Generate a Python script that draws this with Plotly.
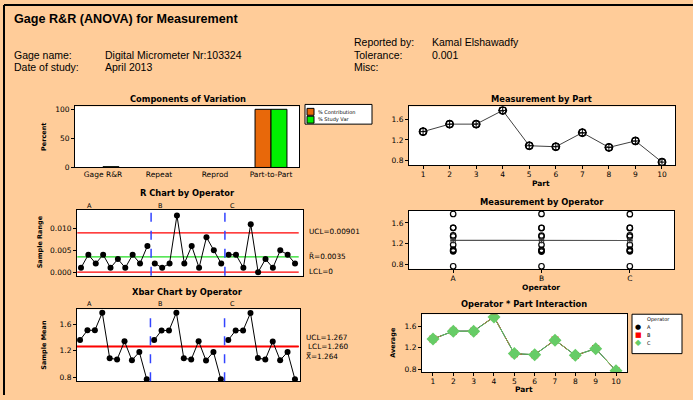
import numpy as np
import plotly.graph_objects as go

W, H = 693, 400

# ---------------- data ----------------
parts = [1, 2, 3, 4, 5, 6, 7, 8, 9, 10]
operators = ["A", "B", "C"]
components = ["Gage R&R", "Repeat", "Reprod", "Part-to-Part"]
pct_contribution = [0.02, 0.01, 0.01, 99.98]
pct_study_var = [1.4, 0.0, 0.0, 99.99]

xbar_A = [1.360, 1.506, 1.507, 1.771, 1.087, 1.068, 1.340, 1.056, 1.180, 0.770]
xbar_B = [1.359, 1.505, 1.503, 1.772, 1.086, 1.067, 1.342, 1.052, 1.181, 0.770]
xbar_C = [1.361, 1.504, 1.505, 1.767, 1.088, 1.069, 1.338, 1.057, 1.179, 0.770]

range_A = [0.001, 0.004, 0.002, 0.004, 0.001, 0.003, 0.001, 0.004, 0.002, 0.006]
range_B = [0.002, 0.001, 0.002, 0.013, 0.002, 0.006, 0.001, 0.008, 0.005, 0.002]
range_C = [0.004, 0.004, 0.001, 0.011, 0.000, 0.003, 0.001, 0.005, 0.004, 0.002]

r_bar, r_ucl, r_lcl = 0.0035, 0.00901, 0.0
x_ucl, x_lcl, x_dbar = 1.267, 1.260, 1.264

# --------------- helpers ---------------
def dx(a, b):
    return [a / W, b / W]

def dy(top, bottom):
    return [1 - bottom / H, 1 - top / H]

def px(x):
    return x / W

def py(y):
    return 1 - y / H

FONT = "DejaVu Sans"
HFONT = "Liberation Sans"
TICK = 7.5
TITLE = 8.3

def ax(**kw):
    d = dict(showline=True, linecolor="black", linewidth=1, mirror=True,
             ticks="outside", ticklen=3, tickcolor="black", showgrid=False,
             zeroline=False, tickfont=dict(family=FONT, size=TICK, color="black"))
    d.update(kw)
    return d

fig = go.Figure()

# 1. Components of Variation (outline only where the bar is visible)
fig.add_trace(go.Bar(x=components, y=pct_contribution, name="% Contribution",
                     marker=dict(color="#E8680A",
                                 line=dict(color="black", width=[0, 0, 0, 1])),
                     xaxis="x", yaxis="y", showlegend=False))
fig.add_trace(go.Bar(x=components, y=pct_study_var, name="% Study Var",
                     marker=dict(color="#00F000",
                                 line=dict(color="black", width=[1, 0, 0, 1])),
                     xaxis="x", yaxis="y", showlegend=False))

# control limit lines (drawn before the points)
span = [0.5, 30.5]
for yv, col, wdt in ((r_bar, "#22DD22", 1.2), (r_ucl, "red", 1.2), (r_lcl, "red", 1.2)):
    fig.add_trace(go.Scatter(x=span, y=[yv, yv], mode="lines", line=dict(color=col, width=wdt),
                             xaxis="x2", yaxis="y2", showlegend=False, hoverinfo="skip"))
for yv, col, wdt in ((x_dbar, "#22DD22", 1.0), (x_ucl, "red", 1.6), (x_lcl, "red", 1.6)):
    fig.add_trace(go.Scatter(x=span, y=[yv, yv], mode="lines", line=dict(color=col, width=wdt),
                             xaxis="x3", yaxis="y3", showlegend=False, hoverinfo="skip"))

# 2. R chart / 3. Xbar chart
sample_idx = list(range(1, 3 * len(parts) + 1))
ranges_all = range_A + range_B + range_C
xbars_all = xbar_A + xbar_B + xbar_C
for g in range(3):
    sl = slice(g * 10, (g + 1) * 10)
    fig.add_trace(go.Scatter(x=sample_idx[sl], y=ranges_all[sl], mode="lines+markers",
                             line=dict(color="black", width=1),
                             marker=dict(color="black", size=6),
                             xaxis="x2", yaxis="y2", showlegend=False))
    fig.add_trace(go.Scatter(x=sample_idx[sl], y=xbars_all[sl], mode="lines+markers",
                             line=dict(color="black", width=1),
                             marker=dict(color="black", size=6),
                             xaxis="x3", yaxis="y3", showlegend=False))

# 4. Measurement by Part
part_means = np.mean([xbar_A, xbar_B, xbar_C], axis=0)
for vals in (xbar_A, xbar_B, xbar_C):
    fig.add_trace(go.Scatter(x=parts, y=vals, mode="markers",
                             marker=dict(symbol="circle-open", color="black", size=7,
                                         line=dict(width=1)),
                             xaxis="x4", yaxis="y4", showlegend=False))
fig.add_trace(go.Scatter(x=parts, y=part_means, mode="lines+markers",
                         line=dict(color="#404040", width=1),
                         marker=dict(symbol="circle-cross-open", color="black", size=8,
                                     line=dict(width=1)),
                         xaxis="x4", yaxis="y4", showlegend=False))

# 5. Measurement by Operator
op_vals = [xbar_A, xbar_B, xbar_C]
for op, vals in zip(operators, op_vals):
    fig.add_trace(go.Scatter(x=[op] * len(vals), y=vals, mode="markers",
                             marker=dict(symbol="circle-open", color="black", size=5.5,
                                         line=dict(width=1.2)),
                             xaxis="x5", yaxis="y5", showlegend=False))
op_means = [float(np.mean(v)) for v in op_vals]
fig.add_trace(go.Scatter(x=operators, y=op_means, mode="lines+markers",
                         line=dict(color="#555555", width=1.2),
                         marker=dict(symbol="circle-cross-open", color="#333333", size=5,
                                     line=dict(width=1)),
                         xaxis="x5", yaxis="y5", showlegend=False))

# 6. Interaction
fig.add_trace(go.Scatter(x=parts, y=xbar_A, mode="lines+markers", name="A",
                         line=dict(color="black", width=1),
                         marker=dict(symbol="circle", color="black", size=7),
                         xaxis="x6", yaxis="y6", showlegend=False))
fig.add_trace(go.Scatter(x=parts, y=xbar_B, mode="lines+markers", name="B",
                         line=dict(color="red", width=1, dash="dash"),
                         marker=dict(symbol="square", color="red", size=7),
                         xaxis="x6", yaxis="y6", showlegend=False))
fig.add_trace(go.Scatter(x=parts, y=xbar_C, mode="lines+markers", name="C",
                         line=dict(color="#66CC66", width=1),
                         marker=dict(symbol="diamond", color="#66CC66", size=10),
                         xaxis="x6", yaxis="y6", showlegend=False))

# --------------- layout ---------------
layout = dict(
    width=W, height=H, margin=dict(l=0, r=0, t=0, b=0),
    paper_bgcolor="#FFCC99", plot_bgcolor="white",
    barmode="group", bargap=0.43, bargroupgap=0,
    font=dict(family=FONT, size=7, color="black"),
    xaxis=ax(domain=dx(75, 299), anchor="y", range=[-0.5, 3.5], ticks=""),
    yaxis=ax(domain=dy(107, 169), anchor="x", range=[0, 105], tickvals=[0, 50, 100]),
    xaxis2=ax(domain=dx(77, 303), anchor="y2", range=[0.46, 31.08], showticklabels=False, ticks=""),
    yaxis2=ax(domain=dy(212, 279), anchor="x2", range=[-0.00084, 0.0143],
              tickvals=[0, 0.005, 0.010], tickformat=".3f"),
    xaxis3=ax(domain=dx(77, 300), anchor="y3", range=[0.59, 30.68], showticklabels=False, ticks=""),
    yaxis3=ax(domain=dy(313, 386), anchor="x3", range=[0.741, 1.822],
              tickvals=[0.8, 1.2, 1.6], tickformat=".1f"),
    xaxis4=ax(domain=dx(409, 675), anchor="y4", range=[0.47, 10.49], tickvals=parts,
              ticklabelstandoff=-1),
    yaxis4=ax(domain=dy(107, 167), anchor="x4", range=[0.705, 1.848],
              tickvals=[0.8, 1.2, 1.6], tickformat=".1f"),
    xaxis5=ax(domain=dx(409, 674), anchor="y5", range=[-0.5, 2.5], type="category",
              ticklabelstandoff=-1),
    yaxis5=ax(domain=dy(213, 272), anchor="x5", range=[0.719, 1.832],
              tickvals=[0.8, 1.2, 1.6], tickformat=".1f"),
    xaxis6=ax(domain=dx(422, 627), anchor="y6", range=[0.46, 10.54], tickvals=parts,
              ticklabelstandoff=-1),
    yaxis6=ax(domain=dy(318, 377), anchor="x6", range=[0.74, 1.82],
              tickvals=[0.8, 1.2, 1.6], tickformat=".1f"),
)

shapes = []
# outer frame (top and left)
shapes.append(dict(type="line", xref="paper", yref="paper", x0=px(4), x1=1.0, y0=py(4), y1=py(4),
                   line=dict(color="black", width=2)))
shapes.append(dict(type="line", xref="paper", yref="paper", x0=px(4), x1=px(4), y0=py(4), y1=0,
                   line=dict(color="black", width=2)))

# operator separators
for xr, yr in (("x2", "y2 domain"), ("x3", "y3 domain")):
    for xv in (10.5, 20.5):
        shapes.append(dict(type="line", xref=xr, yref=yr, x0=xv, x1=xv, y0=0, y1=1,
                           line=dict(color="#3344FF", width=1.5, dash="dash")))

# Components legend box
shapes.append(dict(type="rect", xref="paper", yref="paper", x0=px(305), x1=px(372),
                   y0=py(125), y1=py(105), fillcolor="white", line=dict(color="black", width=1)))
shapes.append(dict(type="rect", xref="paper", yref="paper", x0=px(307), x1=px(314),
                   y0=py(116), y1=py(109), fillcolor="#E8680A", line=dict(color="black", width=1)))
shapes.append(dict(type="rect", xref="paper", yref="paper", x0=px(307), x1=px(314),
                   y0=py(124), y1=py(117), fillcolor="#00F000", line=dict(color="black", width=1)))
# Interaction legend box
shapes.append(dict(type="rect", xref="paper", yref="paper", x0=px(632), x1=px(682),
                   y0=py(358), y1=py(318), fillcolor="white", line=dict(color="black", width=1)))
layout["shapes"] = shapes

ann = []

def text(x, y, s, size=7, bold=False, anchor="left", family=FONT, color="black", angle=0):
    ann.append(dict(xref="paper", yref="paper", x=px(x), y=py(y), text=("<b>%s</b>" % s) if bold else s,
                    showarrow=False, xanchor=anchor, yanchor="middle", textangle=angle,
                    font=dict(family=family, size=size, color=color)))

# header
text(12, 18, "Gage R&R (ANOVA) for Measurement", size=12.6, bold=True, family=HFONT)
text(12, 55, "Gage name:", size=10.5, family=HFONT)
text(103, 55, "Digital Micrometer Nr:103324", size=10.5, family=HFONT)
text(12, 67, "Date of study:", size=10.5, family=HFONT)
text(103, 67, "April 2013", size=10.5, family=HFONT)
text(352, 42, "Reported by:", size=10.5, family=HFONT)
text(430, 42, "Kamal Elshawadfy", size=10.5, family=HFONT)
text(352, 55, "Tolerance:", size=10.5, family=HFONT)
text(430, 55, "0.001", size=10.5, family=HFONT)
text(352, 67, "Misc:", size=10.5, family=HFONT)

# panel titles
text(188, 99, "Components of Variation", size=TITLE, bold=True, anchor="center")
text(187, 195, "R Chart by Operator", size=TITLE, bold=True, anchor="center")
text(187, 295, "Xbar Chart by Operator", size=TITLE, bold=True, anchor="center")
text(541, 99, "Measurement by Part", size=TITLE, bold=True, anchor="center")
text(542, 204, "Measurement by Operator", size=TITLE, bold=True, anchor="center")
text(524, 308, "Operator * Part Interaction", size=TITLE, bold=True, anchor="center")

# axis titles
text(44, 138, "Percent", size=6.5, bold=True, anchor="center", angle=-90)
text(40, 245, "Sample Range", size=6.5, bold=True, anchor="center", angle=-90)
text(44, 349, "Sample Mean", size=6.5, bold=True, anchor="center", angle=-90)
text(393, 347, "Average", size=6.5, bold=True, anchor="center", angle=-90)
text(541, 185, "Part", size=7.5, bold=True, anchor="center")
text(541, 291, "Operator", size=7.5, bold=True, anchor="center")
text(524, 394, "Part", size=7.5, bold=True, anchor="center")

# operator labels over charts
for (xa, lab) in ((90, "A"), (160, "B"), (232, "C")):
    text(xa, 208, lab, size=6.5, anchor="center")
    text(xa, 308, lab, size=6.5, anchor="center")

# control limit labels
text(307, 234, "UCL=%.5f" % r_ucl, size=7.3)
text(307, 259, "R\u0304=%.4f" % r_bar, size=7.3)
text(307, 275, "LCL=%g" % r_lcl, size=7.3)
text(304, 342, "UCL=%.3f" % x_ucl, size=7.3)
text(306, 351, "LCL=%.3f" % x_lcl, size=7.3)
text(304, 361, "X\u033F=%.3f" % x_dbar, size=7.3)

# components legend text
text(316, 112.5, "% Contribution", size=5)
text(316, 120.5, "% Study Var", size=5)

# interaction legend
text(658, 323, "Operator", size=5, anchor="center")
text(638, 331, "\u25CF", size=7, anchor="center")
text(638, 339, "\u25A0", size=7, anchor="center", color="red")
text(638, 347, "\u25C6", size=8, anchor="center", color="#66CC66")
text(645, 331, "A", size=5)
text(645, 339, "B", size=5)
text(645, 347, "C", size=5)

layout["annotations"] = ann
fig.update_layout(**layout)
fig.write_html("out.html", config={"displayModeBar": False},
               post_script="document.body.style.margin='0';document.body.style.background='#FFCC99';")
